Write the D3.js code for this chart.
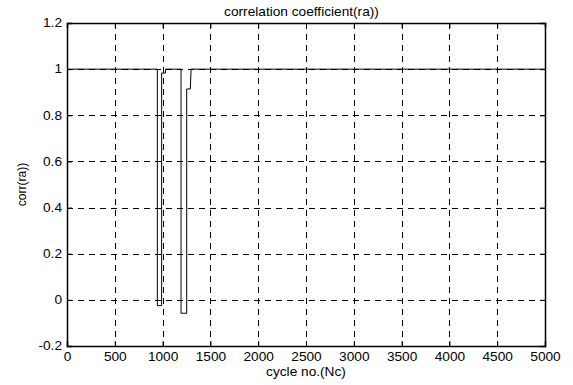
<!DOCTYPE html>
<html><head><meta charset="utf-8">
<script src="https://cdn.jsdelivr.net/npm/d3@7"></script>
<style>body{margin:0;background:#fff}svg{display:block}text{font-family:"Liberation Sans",Arial,sans-serif;fill:#000}</style>
</head><body>
<script>
const xTicks = [0,500,1000,1500,2000,2500,3000,3500,4000,4500,5000];
const yTicks = [-0.2,0,0.2,0.4,0.6,0.8,1,1.2];
const cycles = [0,945,945,990,990,1030,1030,1193,1193,1252,1252,1290,1298,5000];
const corr   = [1,1,-0.025,-0.025,0.983,0.983,1,1,-0.058,-0.058,0.914,0.914,1,1];
const title = "correlation coefficient(ra))";
const xLabel = "cycle no.(Nc)";
const yLabel = "corr(ra))";

const W=573,H=385, L=67,R=545,T=23,B=346, FS=12, SX=1.14;
const svg=d3.select("body").append("svg").attr("width",W).attr("height",H);
const x=d3.scaleLinear().domain([0,5000]).range([L,R]);
const y=d3.scaleLinear().domain([-0.2,1.2]).range([B,T]);

// grid
const g=svg.append("g").attr("stroke","#000").attr("stroke-width",1).attr("stroke-dasharray","6,5");
g.selectAll(".vx").data(xTicks.slice(1,-1)).join("line")
  .attr("x1",d=>Math.round(x(d))+0.5).attr("x2",d=>Math.round(x(d))+0.5).attr("y1",T).attr("y2",B);
g.selectAll(".hy").data(yTicks.slice(1,-1)).join("line")
  .attr("y1",d=>Math.round(y(d))+0.5).attr("y2",d=>Math.round(y(d))+0.5).attr("x1",L).attr("x2",R);

// data line
const line=d3.line().x(d=>x(d[0])).y(d=>y(d[1]));
svg.append("path").datum(cycles.map((c,i)=>[c,corr[i]]))
  .attr("d",line).attr("fill","none").attr("stroke","#000").attr("stroke-width",1);

// axes
const fmt=d=>String(+d.toFixed(1));
const ax=d3.axisBottom(x).tickValues(xTicks).tickSize(-5).tickPadding(6).tickFormat(d=>d);
const ay=d3.axisLeft(y).tickValues(yTicks).tickSize(-5).tickPadding(4.4).tickFormat(fmt);
const gx=svg.append("g").attr("transform",`translate(0,${B})`).call(ax);
const gy=svg.append("g").attr("transform",`translate(${L},0)`).call(ay);
const gxt=svg.append("g").attr("transform",`translate(0,${T})`).call(d3.axisTop(x).tickValues(xTicks).tickSize(-5).tickFormat(""));
const gyr=svg.append("g").attr("transform",`translate(${R},0)`).call(d3.axisRight(y).tickValues(yTicks).tickSize(-5).tickFormat(""));
[gx,gy,gxt,gyr].forEach(a=>{a.selectAll("path").attr("stroke","#000").attr("stroke-width",1.5);
  a.selectAll("line").attr("stroke","#000");
  a.selectAll("text").attr("font-size",FS).attr("font-family","Liberation Sans, Arial, sans-serif").attr("fill","#000")
   .attr("transform",`scale(${SX},1)`);});

svg.append("text").attr("transform",`translate(${(L+R)/2-4.5},16) scale(${SX},1)`).attr("text-anchor","middle").attr("font-size",FS).text(title);
svg.append("text").attr("transform",`translate(${(L+R)/2},376) scale(${SX},1)`).attr("text-anchor","middle").attr("font-size",FS).text(xLabel);
svg.append("text").attr("transform",`translate(26,${(T+B)/2}) rotate(-90) scale(1,${SX})`).attr("text-anchor","middle").attr("font-size",FS).text(yLabel);
</script>
</body></html>
